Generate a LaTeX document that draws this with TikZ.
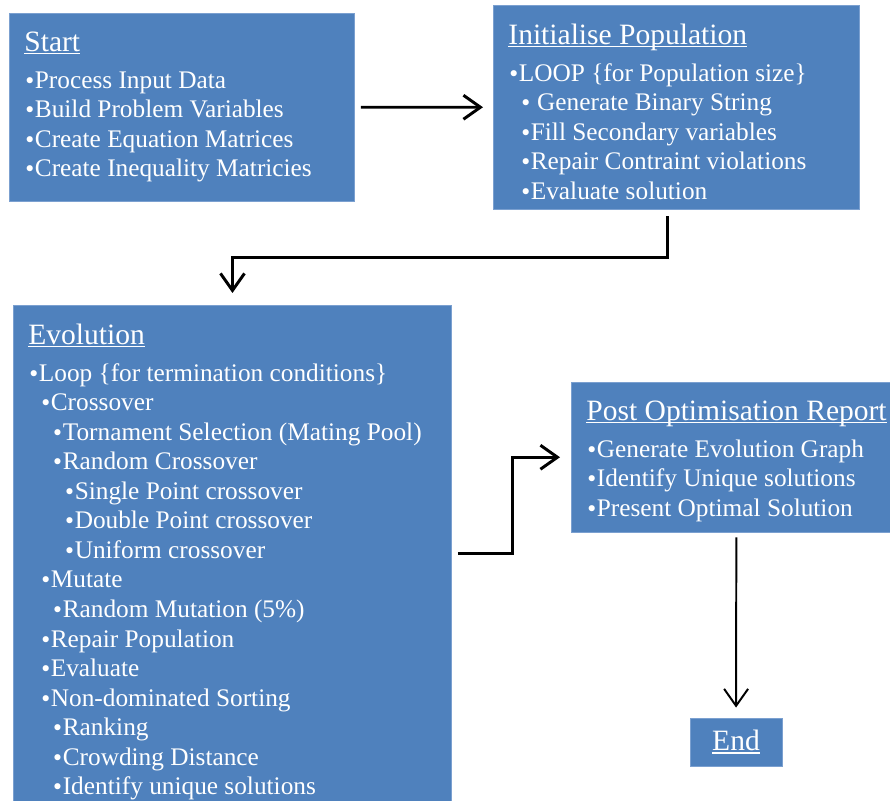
\documentclass[tikz,border=0pt]{standalone}
\usepackage{fontspec}
\setmainfont{Liberation Serif}
\newfontfamily\dotfont{DejaVu Sans}
\usetikzlibrary{positioning,arrows.meta}
\definecolor{cbox}{HTML}{4F81BD}
\definecolor{cedge}{HTML}{7BA0D0}
\newsavebox{\ttlbox}
\newlength{\itmind}\setlength{\itmind}{8.5pt}
\newcommand{\ttl}[1]{\leavevmode{\fontsize{21}{21}\selectfont\sbox{\ttlbox}{#1}\rlap{\rule[-1.8pt]{\wd\ttlbox}{0.8pt}}\usebox{\ttlbox}}}
\newcommand{\itm}[2]{\hspace*{#1\itmind}\kern-0.6pt{\dotfont\fontsize{15}{15}\selectfont\textbullet}\kern-0.8pt #2}
\newcommand{\boxtxt}[3]{\parbox[t][#2][t]{#1}{\raggedright #3}}

\begin{document}
\begin{tikzpicture}[
  x=0.025cm, y=-0.025cm,
  font=\fontsize{18}{21}\selectfont,
  box/.style={draw=cedge, line width=0.6pt, fill=cbox, text=white,
              anchor=north west, inner xsep=0.375cm, inner ysep=0.47cm},
  flow/.style={-{Straight Barb[length=4.25mm, width=6mm]}, line width=2.1pt},
]
\useasboundingbox (0,0) rectangle (890,801);

% ---- boxes ----
\node[box] (start) at (9,13) {\boxtxt{7.875cm}{3.75cm}{\ttl{Start}\\[5pt]
  \itm0{Process Input Data}\\
  \itm0{Build Problem Variables}\\
  \itm0{Create Equation Matrices}\\
  \itm0{Create Inequality Matricies}}};

\node[box] (init) at (493,5) {\boxtxt{8.4cm}{4.15cm}{\ttl{Initialise Population}\\[5pt]
  \itm0{LOOP \{for Population size\}}\\
  \itm1{\ Generate Binary String}\\
  \itm1{Fill Secondary variables}\\
  \itm1{Repair Contraint violations}\\
  \itm1{Evaluate solution}}};

\node[box] (evo) at (13,305) {\boxtxt{10.2cm}{12cm}{\ttl{Evolution}\\[5pt]
  \itm0{Loop \{for termination conditions\}}\\
  \itm1{Crossover}\\
  \itm2{Tornament Selection (Mating Pool)}\\
  \itm2{Random Crossover}\\
  \itm3{Single Point crossover}\\
  \itm3{Double Point crossover}\\
  \itm3{Uniform crossover}\\
  \itm1{Mutate}\\
  \itm2{Random Mutation (5\%)}\\
  \itm1{Repair Population}\\
  \itm1{Evaluate}\\
  \itm1{Non-dominated Sorting}\\
  \itm2{Ranking}\\
  \itm2{Crowding Distance}\\
  \itm2{Identify unique solutions}}};

\node[box] (post) at (571,382) {\boxtxt{7.5cm}{2.8cm}{\ttl{Post Optimisation Report}\\[5pt]
  \itm0{Generate Evolution Graph}\\
  \itm0{Identify Unique solutions}\\
  \itm0{Present Optimal Solution}}};

\node[box, anchor=center, minimum width=2.3cm, minimum height=1.2cm, inner sep=0pt]
  (end) at (736,742) {\ttl{End}};

% ---- connectors ----
\draw[flow, shorten <=0.15cm, shorten >=0.25cm] (start) -- (init);
\draw[flow, shorten <=0.175cm, shorten >=0.3cm] ([xshift=-0.225cm]init.south) -- ++(0,48) -| (evo.north);
\draw[flow, shorten <=0.15cm, shorten >=0.275cm] ([yshift=-6.2cm]evo.north east) -- ++(61,0) |- (post.west);
\draw[flow, line width=1.4pt, shorten <=0.125cm, shorten >=0.25cm] (post) -- (end);
\end{tikzpicture}
\end{document}
